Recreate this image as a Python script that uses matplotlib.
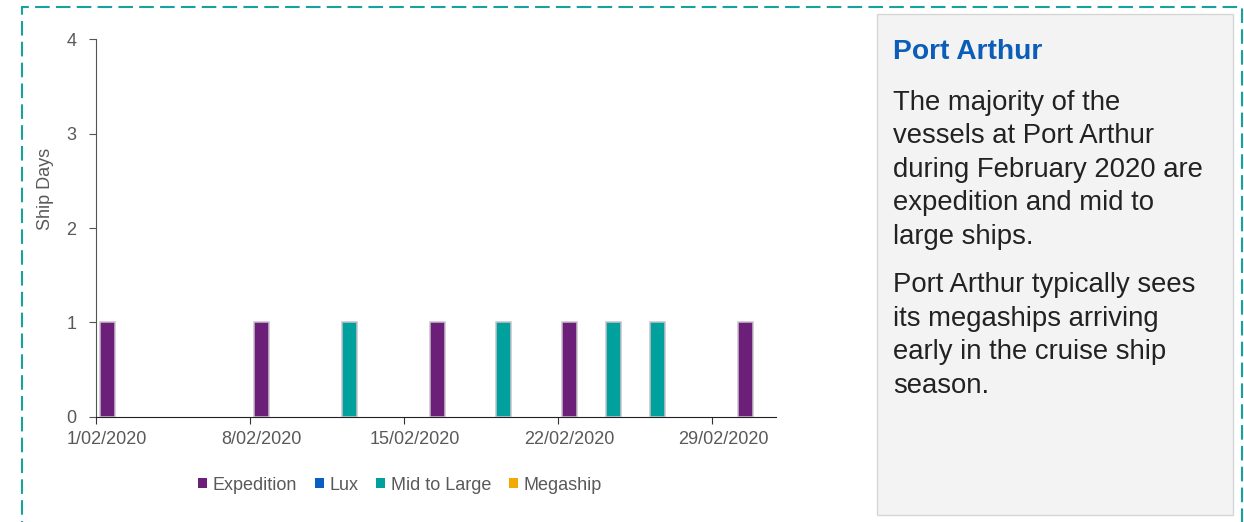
import datetime as dt

import matplotlib.pyplot as plt
import matplotlib.dates as mdates
from matplotlib.patches import Patch, Rectangle

plt.rcParams['font.family'] = ['Liberation Sans', 'DejaVu Sans']

# ship days per vessel class, Port Arthur, Feb 2020
series = ['Expedition', 'Lux', 'Mid to Large', 'Megaship']
colors = ['#6B1F78', '#0A5FC4', '#00A19C', '#F2A900']

expedition_dates = ['2020-02-01', '2020-02-08', '2020-02-16', '2020-02-22', '2020-03-01']
expedition_days = [1, 1, 1, 1, 1]
lux_dates = []
lux_days = []
midlarge_dates = ['2020-02-12', '2020-02-19', '2020-02-24', '2020-02-26']
midlarge_days = [1, 1, 1, 1]
megaship_dates = []
megaship_days = []

tick_dates = ['2020-02-01', '2020-02-08', '2020-02-15', '2020-02-22', '2020-02-29']
y_ticks = [0, 1, 2, 3, 4]

title = 'Port Arthur'
para1 = ['The majority of the', 'vessels at Port Arthur', 'during February 2020 are',
         'expedition and mid to', 'large ships.']
para2 = ['Port Arthur typically sees', 'its megaships arriving',
         'early in the cruise ship', 'season.']

grey = '#595959'


def to_num(dates):
    return [mdates.date2num(dt.datetime.fromisoformat(d)) for d in dates]


fig = plt.figure(figsize=(12.44, 5.22), dpi=100)
ax = fig.add_axes([0.0772, 0.2017, 0.5466, 0.723])

all_series = [(expedition_dates, expedition_days), (lux_dates, lux_days),
              (midlarge_dates, midlarge_days), (megaship_dates, megaship_days)]
for (dates, vals), col in zip(all_series, colors):
    if not dates:
        continue
    # each day occupies the slot between its tick and the next one
    x = [v + 0.5 for v in to_num(dates)]
    ax.bar(x, vals, width=0.68, color=col, edgecolor='#C9C1CC', linewidth=1.1, zorder=3)

start = to_num(['2020-02-01'])[0]
ax.set_xlim(start, start + 30.9)
ax.set_ylim(0, 4)

# tick marks at the start of each week, labels centred on the day
ax.set_xticks(to_num(tick_dates))
ax.set_xticklabels([])
ax.set_xticks([v + 0.5 for v in to_num(tick_dates)], minor=True)
ax.set_xticklabels([f"{int(d[8:])}/{d[5:7]}/{d[:4]}" for d in tick_dates], minor=True)
ax.set_yticks(y_ticks)

for s in ['top', 'right']:
    ax.spines[s].set_visible(False)
ax.spines['left'].set_color('#555555')
ax.spines['bottom'].set_color('#222222')
ax.tick_params(axis='x', which='major', colors='#333333', length=5)
ax.tick_params(axis='x', which='minor', length=0, labelcolor=grey, labelsize=13, pad=10)
ax.tick_params(axis='y', colors='#555555', labelcolor=grey, labelsize=13, length=5, pad=9)

fig.text(46 / 1244, 1 - 189 / 522, 'Ship Days', rotation=90, color=grey,
         fontsize=13, ha='center', va='center')

handles = [Patch(facecolor=c, edgecolor='none') for c in colors]
fig.legend(handles, series, loc='center', bbox_to_anchor=(400 / 1244, 1 - 485 / 522),
           ncol=4, frameon=False, fontsize=13, labelcolor=grey,
           handlelength=0.5, handleheight=0.5, handletextpad=0.3, columnspacing=1.0)

# dashed frame around the whole panel
fig.patches.append(Rectangle((21.7 / 1244, -0.05), (1241.7 - 21.7) / 1244, 1.05 - 7.3 / 522,
                             transform=fig.transFigure, fill=False, edgecolor='#17A39D',
                             linewidth=1.5, linestyle=(0, (7.0, 3.0)), zorder=0))

# commentary box
fig.patches.append(Rectangle((877 / 1244, 1 - 515 / 522), (1233 - 877) / 1244, (515 - 14) / 522,
                             transform=fig.transFigure, facecolor='#F3F3F3',
                             edgecolor='#D6D6D6', linewidth=1.0, zorder=1))

tx = 893 / 1244
fig.text(tx, 1 - 59 / 522, title, color='#0B5DB7', fontsize=20.3, fontweight='bold',
         va='baseline', ha='left', zorder=2)
line_gap = 33.6
for i, line in enumerate(para1):
    fig.text(tx, 1 - (109.5 + i * line_gap) / 522, line, color='#222222', fontsize=19.8,
             va='baseline', ha='left', zorder=2)
for i, line in enumerate(para2):
    fig.text(tx, 1 - (292 + i * line_gap) / 522, line, color='#222222', fontsize=19.8,
             va='baseline', ha='left', zorder=2)

fig.savefig('out.png', dpi=100)
